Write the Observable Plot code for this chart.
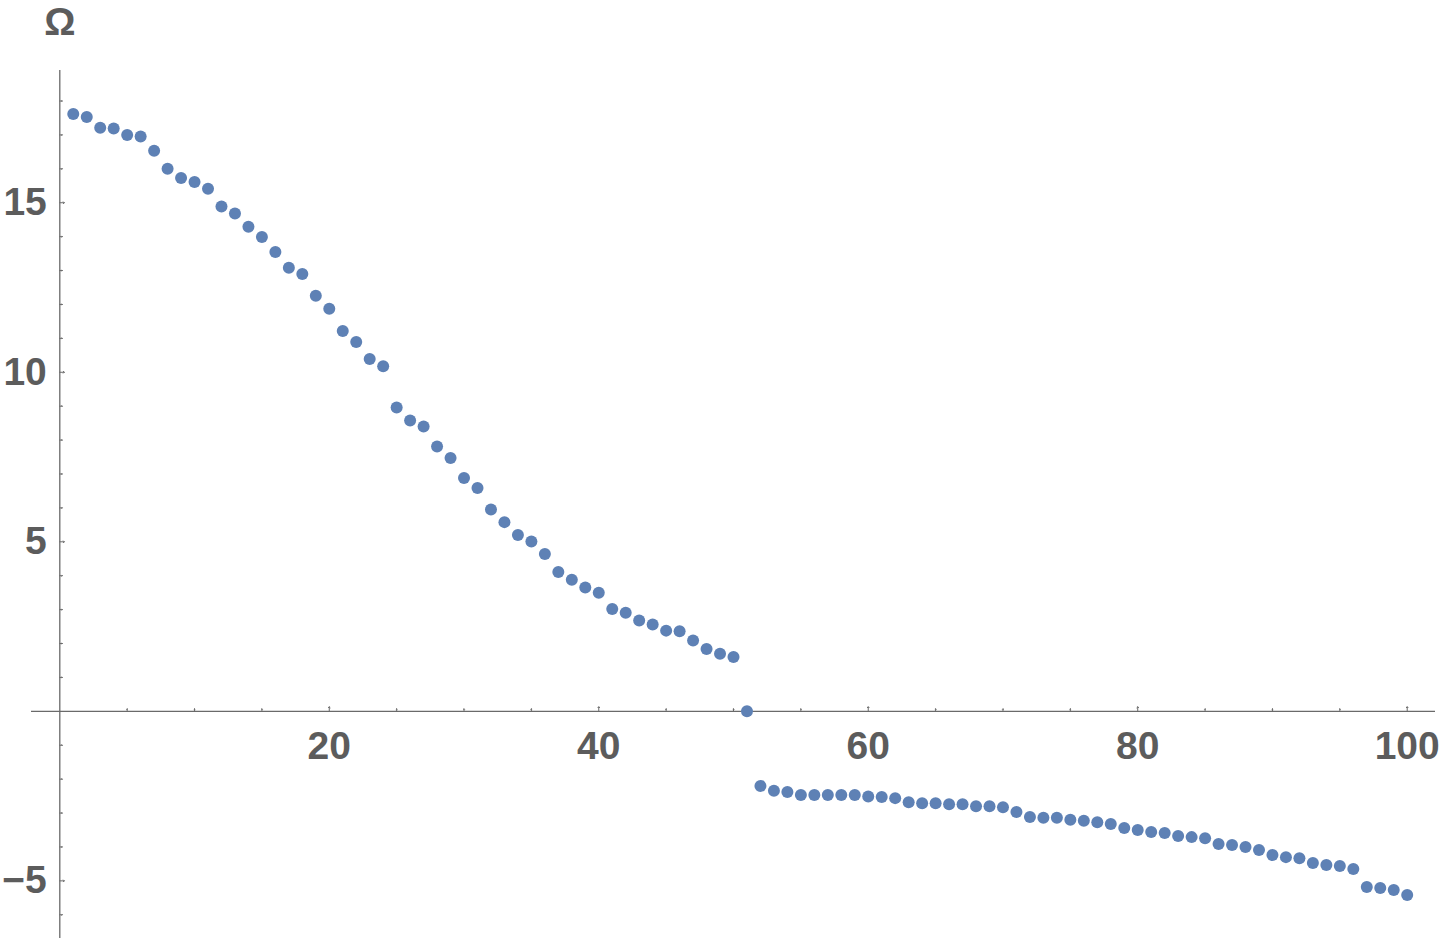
<!DOCTYPE html>
<html>
<head>
<meta charset="utf-8">
<script src="https://cdn.jsdelivr.net/npm/d3@7"></script>
<script src="https://cdn.jsdelivr.net/npm/@observablehq/plot@0.6"></script>
<style>
  html, body { margin: 0; padding: 0; background: #fff; }
  #chart svg { overflow: visible; display: block; }
</style>
</head>
<body>
<div id="chart"></div>
<script>
// Ω values for index 1..100
const omega = [
  17.62, 17.53, 17.21, 17.19, 17.00, 16.95, 16.53, 16.00, 15.73, 15.61,
  15.41, 14.89, 14.68, 14.29, 13.99, 13.55, 13.08, 12.90, 12.26, 11.87,
  11.22, 10.89, 10.39, 10.18, 8.96, 8.58, 8.40, 7.81, 7.47, 6.88,
  6.59, 5.95, 5.58, 5.20, 5.01, 4.64, 4.11, 3.88, 3.65, 3.50,
  3.02, 2.91, 2.68, 2.56, 2.38, 2.36, 2.09, 1.84, 1.70, 1.60,
  0.00, -2.20, -2.34, -2.38, -2.47, -2.47, -2.47, -2.47, -2.47, -2.51,
  -2.53, -2.56, -2.68, -2.71, -2.71, -2.74, -2.74, -2.80, -2.80, -2.83,
  -2.97, -3.12, -3.14, -3.14, -3.20, -3.23, -3.27, -3.32, -3.44, -3.50,
  -3.56, -3.59, -3.68, -3.71, -3.74, -3.91, -3.94, -4.00, -4.09, -4.24,
  -4.30, -4.33, -4.47, -4.53, -4.56, -4.65, -5.18, -5.21, -5.27, -5.42
];
const index = omega.map((_, i) => i + 1);

const xMajorTicks = [20, 40, 60, 80, 100];
const xMinorTicks = [5, 10, 15, 25, 30, 35, 45, 50, 55, 65, 70, 75, 85, 90, 95];
const yMajorTicks = [-5, 5, 10, 15];
const yMinorTicks = [-6, -4, -3, -2, -1, 1, 2, 3, 4, 6, 7, 8, 9, 11, 12, 13, 14, 16, 17, 18];
const yLabel = "Ω";

const points = index.map((n, i) => ({n, v: omega[i]}));

const axisColor = "#6a6a6a";
const labelColor = "#5c5c5c";
const dotColor = "#5E81B5";
const font = "'Liberation Sans', Arial, sans-serif";
const fmt = d3.format("d");

const chart = Plot.plot({
  width: 1440,
  height: 940,
  marginLeft: 31,
  marginRight: 5,
  marginTop: 70,
  marginBottom: 2,
  x: {domain: [-2.1, 102.1], axis: null},
  y: {domain: [-6.7, 18.9], axis: null},
  style: {fontFamily: font, background: "#fff"},
  marks: [
    // axes lines
    Plot.ruleY([0], {stroke: axisColor, strokeWidth: 1.3}),
    Plot.ruleX([0], {stroke: axisColor, strokeWidth: 1.3}),
    // x ticks
    Plot.vector(xMajorTicks, {x: d => d, y: 0, length: 4.5, rotate: 0, anchor: "start", stroke: axisColor, strokeWidth: 1}),
    Plot.vector(xMinorTicks, {x: d => d, y: 0, length: 2.5, rotate: 0, anchor: "start", stroke: axisColor, strokeWidth: 1}),
    // y ticks
    Plot.vector(yMajorTicks, {x: 0, y: d => d, length: 4.5, rotate: 90, anchor: "start", stroke: axisColor, strokeWidth: 1}),
    Plot.vector(yMinorTicks, {x: 0, y: d => d, length: 2.5, rotate: 90, anchor: "start", stroke: axisColor, strokeWidth: 1}),
    // tick labels
    Plot.text(xMajorTicks, {x: d => d, y: 0, dy: 35, text: d => fmt(d), fill: labelColor, fontSize: 39, fontWeight: "bold"}),
    Plot.text(yMajorTicks, {x: 0, y: d => d, dx: -13, text: d => fmt(d), textAnchor: "end", fill: labelColor, fontSize: 39, fontWeight: "bold"}),
    // axis label
    Plot.text([yLabel], {x: 0, frameAnchor: "top", lineAnchor: "middle", dy: -48, text: d => d, fill: labelColor, fontSize: 39, fontWeight: "bold"}),
    // data
    Plot.dot(points, {x: "n", y: "v", r: 6, fill: dotColor, stroke: null})
  ]
});
document.getElementById("chart").appendChild(chart);
</script>
</body>
</html>
